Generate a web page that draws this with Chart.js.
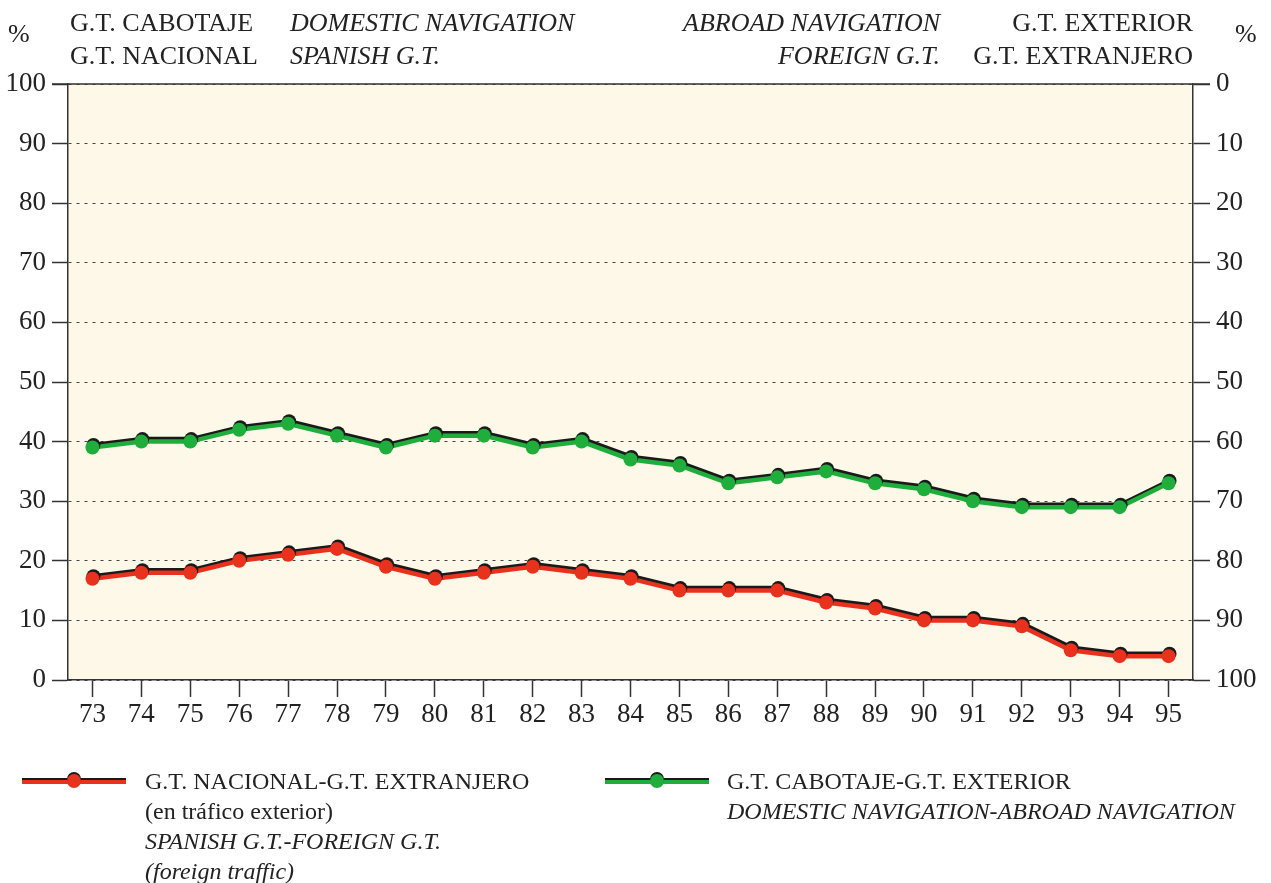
<!DOCTYPE html>
<html>
<head>
<meta charset="utf-8">
<script src="https://cdn.jsdelivr.net/npm/chart.js@4.4.1/dist/chart.umd.min.js"></script>
<style>
  body { margin: 0; background: #fff; font-family: "Liberation Serif", serif; color: #222; }
  #wrap { position: relative; width: 1271px; height: 883px; }
  canvas { position: absolute; left: 0; top: 0; }
  .t { position: absolute; font-size: 26px; line-height: 30px; white-space: nowrap; }
  .r { text-align: right; }
  .i { font-style: italic; }
  .leg { position: absolute; font-size: 24px; line-height: 30px; white-space: nowrap; }
  .sample { position: absolute; width: 104px; height: 14px; }
  .sample .ln1 { position: absolute; left: 0; right: 0; top: 3px; height: 3px; background: #1a1a1a; }
  .sample .ln2 { position: absolute; left: 0; right: 0; top: 5px; height: 4px; }
  .sample .dot { position: absolute; left: 45px; top: -1px; width: 14px; height: 14px; border-radius: 50%; }
</style>
</head>
<body>
<div id="wrap">
  <canvas id="myChart" width="1271" height="883"></canvas>

  <div class="t" style="left:8px;top:19px;">%</div>
  <div class="t" style="left:70px;top:8px;">G.T. CABOTAJE</div>
  <div class="t" style="left:70px;top:41px;">G.T. NACIONAL</div>
  <div class="t i" style="left:290px;top:8px;">DOMESTIC NAVIGATION</div>
  <div class="t i" style="left:290px;top:41px;">SPANISH G.T.</div>
  <div class="t i r" style="right:331px;top:8px;">ABROAD NAVIGATION</div>
  <div class="t i r" style="right:331px;top:41px;">FOREIGN G.T.</div>
  <div class="t r" style="right:78px;top:8px;">G.T. EXTERIOR</div>
  <div class="t r" style="right:78px;top:41px;">G.T. EXTRANJERO</div>
  <div class="t" style="left:1235px;top:19px;">%</div>

  <div class="sample" style="left:22px;top:775px;">
    <div class="ln1"></div><div class="ln2" style="background:#e8321e"></div>
    <div class="dot" style="background:#e8321e;box-shadow:0 -2px 0 #1a1a1a"></div>
  </div>
  <div class="leg" style="left:145px;top:766px;">
    G.T. NACIONAL-G.T. EXTRANJERO<br>(en tráfico exterior)<br>
    <span class="i">SPANISH G.T.-FOREIGN G.T.</span><br><span class="i">(foreign traffic)</span>
  </div>

  <div class="sample" style="left:605px;top:775px;">
    <div class="ln1"></div><div class="ln2" style="background:#1fae3c"></div>
    <div class="dot" style="background:#1fae3c;box-shadow:0 -2px 0 #1a1a1a"></div>
  </div>
  <div class="leg" style="left:727px;top:766px;">
    G.T. CABOTAJE-G.T. EXTERIOR<br><span class="i">DOMESTIC NAVIGATION-ABROAD NAVIGATION</span>
  </div>
</div>

<script>
// años 1973-1995
const years = ["73","74","75","76","77","78","79","80","81","82","83","84","85","86","87","88","89","90","91","92","93","94","95"];
// % G.T. cabotaje (navegación nacional) sobre exterior
const cabotaje = [39,40,40,42,43,41,39,41,41,39,40,37,36,33,34,35,33,32,30,29,29,29,33];
// % G.T. nacional sobre extranjero (tráfico exterior)
const nacional = [17,18,18,20,21,22,19,17,18,19,18,17,15,15,15,13,12,10,10,9,5,4,4];
const leftTicks = [0,10,20,30,40,50,60,70,80,90,100];

const ctx = document.getElementById('myChart').getContext('2d');
const tickFont = { family: "Liberation Serif", size: 27 };

// fondo crema y línea superior
const frame = {
  id: 'frame',
  beforeDraw(chart) {
    const { ctx, chartArea: a } = chart;
    ctx.save();
    ctx.fillStyle = '#fdf8e7';
    ctx.fillRect(a.left, a.top, a.right - a.left, a.bottom - a.top);
    ctx.restore();
  },
  afterDraw(chart) {
    const { ctx, chartArea: a } = chart;
    ctx.save();
    ctx.strokeStyle = '#333';
    ctx.lineWidth = 1.5;
    ctx.beginPath();
    ctx.moveTo(a.left - 16, a.top);
    ctx.lineTo(a.right + 17, a.top);
    ctx.stroke();
    ctx.restore();
  }
};

// sombra negra desplazada bajo las líneas
const shadow = {
  id: 'shadow',
  beforeDatasetDraw(chart) {
    const c = chart.ctx;
    c.save();
    c.shadowColor = '#1a1a1a';
    c.shadowOffsetX = 1;
    c.shadowOffsetY = -2.5;
    c.shadowBlur = 0;
  },
  afterDatasetDraw(chart) {
    chart.ctx.restore();
  }
};

new Chart(ctx, {
  type: 'line',
  data: {
    labels: years,
    datasets: [
      {
        label: 'G.T. CABOTAJE-G.T. EXTERIOR',
        data: cabotaje,
        borderColor: '#1fae3c',
        backgroundColor: '#1fae3c',
        borderWidth: 4.5,
        pointRadius: 7,
        pointBorderWidth: 0,
        tension: 0
      },
      {
        label: 'G.T. NACIONAL-G.T. EXTRANJERO',
        data: nacional,
        borderColor: '#e8321e',
        backgroundColor: '#e8321e',
        borderWidth: 4.5,
        pointRadius: 7,
        pointBorderWidth: 0,
        tension: 0
      }
    ]
  },
  options: {
    responsive: false,
    animation: false,
    layout: { padding: { top: 84, left: 0, right: 0, bottom: 0 } },
    plugins: {
      legend: { display: false },
      tooltip: { enabled: false }
    },
    scales: {
      x: {
        offset: true,
        grid: { drawOnChartArea: false, tickLength: 17, tickColor: '#333', tickWidth: 1.5, offset: false },
        border: { color: '#333', width: 1.5 },
        ticks: { color: '#222', font: tickFont, padding: 2, maxRotation: 0 },
        afterFit(s) { s.height = 203; }
      },
      y: {
        min: 0, max: 100,
        afterBuildTicks(s) { s.ticks = leftTicks.map(v => ({ value: v })); },
        grid: {
          color: '#444', lineWidth: 1,
          tickLength: 16, tickColor: '#333', tickWidth: 1.5, tickBorderDash: []
        },
        border: { color: '#333', width: 1.5, dash: [3, 5] },
        ticks: { color: '#222', font: tickFont, padding: 6 },
        afterFit(s) { s.width = 68; }
      },
      y1: {
        position: 'right',
        reverse: true,
        min: 0, max: 100,
        afterBuildTicks(s) { s.ticks = leftTicks.map(v => ({ value: v })); },
        grid: { drawOnChartArea: false, tickLength: 17, tickColor: '#333', tickWidth: 1.5 },
        border: { color: '#333', width: 1.5 },
        ticks: { color: '#222', font: tickFont, padding: 6 },
        afterFit(s) { s.width = 78; }
      }
    }
  },
  plugins: [frame, shadow]
});
</script>
</body>
</html>
